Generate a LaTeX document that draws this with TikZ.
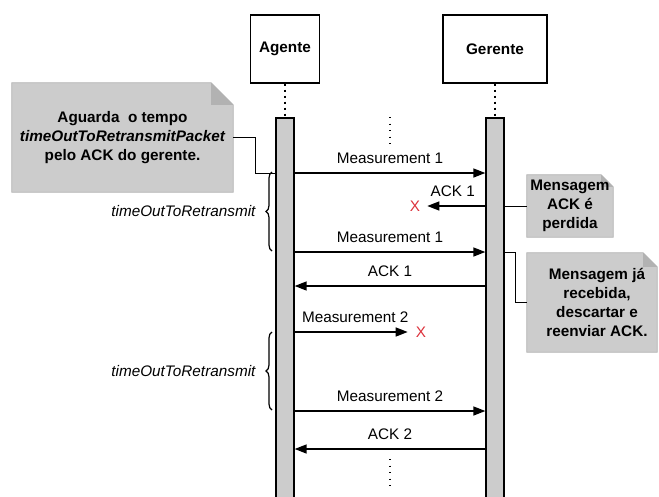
\documentclass[tikz,border=0pt]{standalone}
\usepackage{fontspec}
\setmainfont{Liberation Sans}
\usepackage{tikz}
\usetikzlibrary{arrows.meta,calc,backgrounds,decorations.pathreplacing}
\definecolor{notegray}{RGB}{204,204,204}
\definecolor{foldgray}{RGB}{178,178,178}
\definecolor{lostred}{RGB}{220,50,60}

\begin{document}
\begin{tikzpicture}[x=1pt,y=1pt,yscale=-1,
  txt/.style={font=\fontsize{15.3}{18.7}\selectfont,inner sep=0pt},
  boldtxt/.style={font=\fontsize{15.3}{18.7}\selectfont\bfseries,inner sep=0pt,align=center},
  actor/.style={draw,line width=1.3pt,fill=white,minimum height=68,inner sep=0pt,font=\fontsize{15.3}{18.7}\selectfont\bfseries},
  bar/.style={draw,line width=1.3pt,fill=notegray,minimum width=18,minimum height=390,inner sep=0pt},
  lifeline/.style={line width=1.6pt,dash pattern=on 2pt off 4pt},
  vdots/.style={line width=1.1pt,dash pattern=on 1pt off 5.5pt},
  msg/.style={line width=1.4pt,-{Triangle[length=12pt,width=9pt]}},
  lbl/.style={txt,above=8.5pt},
  lost/.style={txt,text=lostred},
  noteline/.style={line width=1pt},
  notefill/.style={fill=notegray,draw=foldgray,line width=0.8pt},
  brc/.style={line width=1.2pt,decorate,decoration={brace,amplitude=6pt}}]
\useasboundingbox (0,0) rectangle (659,496);

% Lifelines
\node[actor,minimum width=69] (agente) at (285,49) {Agente};
\node[actor,minimum width=104] (gerente) at (495,49) {Gerente};
\node[bar] (barA) at (285,313) {};
\node[bar] (barB) at (495,313) {};
\draw[lifeline] (agente.south) -- (barA.north);
\draw[lifeline] (gerente.south) -- (barB.north);

% message levels
\coordinate (y1) at (0,173);
\coordinate (y2) at (0,206);
\coordinate (y3) at (0,252);
\coordinate (y4) at (0,286);
\coordinate (y5) at (0,332);
\coordinate (y6) at (0,411);
\coordinate (y7) at (0,449);

% Text Node
\node[lost] (lost1) at (415,206) {X};
\node[lost] (lost2) at (421,332) {X};

%Straight Lines
\draw[msg] (barA.east |- y1) -- (barB.west |- y1) node[midway,lbl] {Measurement 1};
\draw[msg,shorten >=7pt] (barB.west |- y2) -- (lost1.east) node[midway,lbl] {ACK 1};
\draw[msg] (barA.east |- y3) -- (barB.west |- y3) node[midway,lbl] {Measurement 1};
\draw[msg] (barB.west |- y4) -- (barA.east |- y4) node[midway,lbl] {ACK 1};
\draw[msg,shorten >=8pt] (barA.east |- y5) -- (lost2.west) node[midway,lbl] {Measurement 2};
\draw[msg] (barA.east |- y6) -- (barB.west |- y6) node[midway,lbl] {Measurement 2};
\draw[msg] (barB.west |- y7) -- (barA.east |- y7) node[midway,lbl] {ACK 2};

% vertical dots
\draw[vdots] (390,117) -- (390,148);
\draw[vdots] (390,459) -- (390,490);

% Braces
\coordinate (b1top) at (272,172);
\coordinate (b1bot) at (272,251);
\coordinate (b2top) at (272,332);
\coordinate (b2bot) at (272,410);
\draw[brc] (b1bot) -- (b1top) node[midway,txt,left=16pt] {\itshape timeOutToRetransmit};
\draw[brc] (b2bot) -- (b2top) node[midway,txt,left=16pt] {\itshape timeOutToRetransmit};

% Notes
\node[boldtxt,minimum width=221,minimum height=109] (note1) at (122.5,137.5)
  {Aguarda~ o tempo\\ \itshape timeOutToRetransmitPacket\\ pelo ACK do gerente.};
\node[boldtxt,minimum width=86,minimum height=62] (note2) at (570,206)
  {Mensagem\\ ACK é\\ perdida};
\node[boldtxt,minimum width=130,minimum height=99] (note3) at (592,302.5)
  {\hspace*{10pt}Mensagem já\\ \hspace*{10pt}recebida,\\ \hspace*{10pt}descartar e\\ \hspace*{10pt}reenviar ACK.};
\begin{scope}[on background layer]
\draw[notefill] (note1.south west) -- (note1.north west) -- ($(note1.north east)+(-22,0)$) -- ($(note1.north east)+(0,22)$) -- (note1.south east) -- cycle;
\fill[foldgray] ($(note1.north east)+(-22,0)$) -- ($(note1.north east)+(0,22)$) -- ($(note1.north east)+(-22,22)$) -- cycle;
\draw[notefill] (note2.south west) -- (note2.north west) -- ($(note2.north east)+(-12,0)$) -- ($(note2.north east)+(0,12)$) -- (note2.south east) -- cycle;
\fill[foldgray] ($(note2.north east)+(-12,0)$) -- ($(note2.north east)+(0,12)$) -- ($(note2.north east)+(-12,12)$) -- cycle;
\draw[notefill] (note3.south west) -- (note3.north west) -- ($(note3.north east)+(-14,0)$) -- ($(note3.north east)+(0,14)$) -- (note3.south east) -- cycle;
\fill[foldgray] ($(note3.north east)+(-14,0)$) -- ($(note3.north east)+(0,14)$) -- ($(note3.north east)+(-14,14)$) -- cycle;
\end{scope}

% note connectors
\draw[noteline] (note1.east) -- ++(22,0) |- (barA.west |- y1);
\draw[noteline] (barB.east |- note2) -- (note2.west);
\draw[noteline] (barB.east |- y3) -- ++(11,0) |- (note3.west);

\end{tikzpicture}
\end{document}
